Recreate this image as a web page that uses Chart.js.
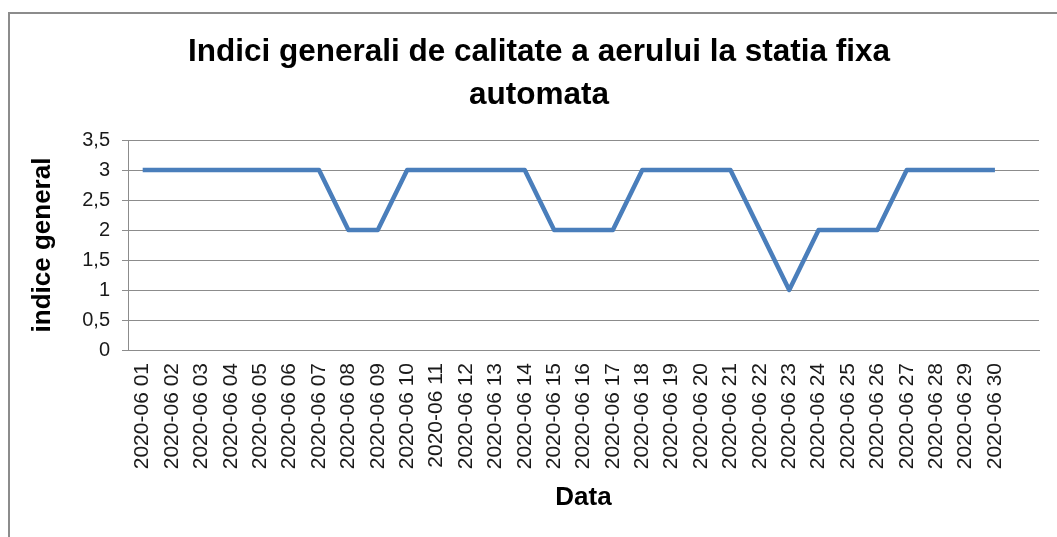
<!DOCTYPE html>
<html>
<head>
<meta charset="utf-8">
<script src="https://cdn.jsdelivr.net/npm/chart.js@4/dist/chart.umd.min.js"></script>
<style>
    html, body { margin: 0; padding: 0; background: #fff; overflow: hidden; }
    body { width: 1057px; height: 537px; position: relative; }
    #frame {
        position: absolute; left: 8px; top: 12px;
        width: 1060px; height: 540px;
        border-left: 2px solid #8c8c8c; border-top: 2px solid #8c8c8c;
    }
    #chart { position: absolute; left: 0; top: 0; }
</style>
</head>
<body>
<div id="frame"><canvas id="chart" width="1058" height="523"></canvas></div>
<script>
// -------------------- Data --------------------
const days = [
    '2020-06 01', '2020-06 02', '2020-06 03', '2020-06 04', '2020-06 05',
    '2020-06 06', '2020-06 07', '2020-06 08', '2020-06 09', '2020-06 10',
    '2020-06 11', '2020-06 12', '2020-06 13', '2020-06 14', '2020-06 15',
    '2020-06 16', '2020-06 17', '2020-06 18', '2020-06 19', '2020-06 20',
    '2020-06 21', '2020-06 22', '2020-06 23', '2020-06 24', '2020-06 25',
    '2020-06 26', '2020-06 27', '2020-06 28', '2020-06 29', '2020-06 30',
    '' // empty row at the end of the sheet
];
const indiceGeneral = [
    3, 3, 3, 3, 3, 3, 3, 2, 2, 3,
    3, 3, 3, 3, 2, 2, 2, 3, 3, 3,
    3, 2, 1, 2, 2, 2, 3, 3, 3, 3,
    null
];
const yTicks = { min: 0, max: 3.5, step: 0.5 };

const titleLines = ['Indici generali de calitate a aerului la statia fixa', 'automata'];
const xTitle = 'Data';
const yTitle = 'indice general';

const gridGray = '#8c8c8c';
const fontFamily = '"Liberation Sans", Arial, sans-serif';

// -------------------- Chart --------------------
const ctx = document.getElementById('chart');

new Chart(ctx, {
    type: 'line',
    data: {
        labels: days,
        datasets: [{
            label: yTitle,
            data: indiceGeneral,
            borderColor: '#4a7ebb',
            borderWidth: 4.5,
            pointRadius: 0,
            tension: 0,
            borderJoinStyle: 'round',
            spanGaps: false
        }]
    },
    options: {
        responsive: false,
        devicePixelRatio: 1,
        animation: false,
        layout: { padding: 0 },
        plugins: {
            legend: { display: false },
            tooltip: { enabled: false },
            title: {
                display: true,
                text: titleLines,
                color: '#000',
                font: { family: fontFamily, size: 31.5, weight: 'bold', lineHeight: '43px' },
                padding: { top: 17, bottom: 23 }
            }
        },
        scales: {
            x: {
                type: 'category',
                offset: true,
                grid: { display: false, drawTicks: false },
                border: { display: true, color: gridGray, width: 1 },
                ticks: {
                    autoSkip: false,
                    minRotation: 90,
                    maxRotation: 90,
                    padding: 13,
                    color: '#1a1a1a',
                    font: { family: fontFamily, size: 21 }
                },
                title: {
                    display: true,
                    text: xTitle,
                    color: '#000',
                    font: { family: fontFamily, size: 26, weight: 'bold', lineHeight: 1.2 },
                    padding: { top: 0, bottom: 24 }
                },
                afterFit: (scale) => { scale.height = 187; }
            },
            y: {
                min: yTicks.min,
                max: yTicks.max,
                grid: { color: gridGray, lineWidth: 1, drawTicks: true, tickLength: 6 },
                border: { display: true, color: gridGray, width: 1 },
                ticks: {
                    stepSize: yTicks.step,
                    padding: 12,
                    color: '#1a1a1a',
                    font: { family: fontFamily, size: 20 },
                    callback: (v) => String(v).replace('.', ',')
                },
                title: {
                    display: true,
                    text: yTitle,
                    color: '#000',
                    font: { family: fontFamily, size: 26, weight: 'bold', lineHeight: 1.2 },
                    padding: { top: 17, bottom: 0 }
                },
                afterFit: (scale) => { scale.width = 118; }
            },
            // empty space on the right of the plot, keeps the title centred on the frame
            spacer: {
                type: 'linear',
                position: 'right',
                grid: { display: false },
                border: { display: false },
                ticks: { display: false },
                afterFit: (scale) => { scale.width = 29; }
            }
        }
    }
});
</script>
</body>
</html>
